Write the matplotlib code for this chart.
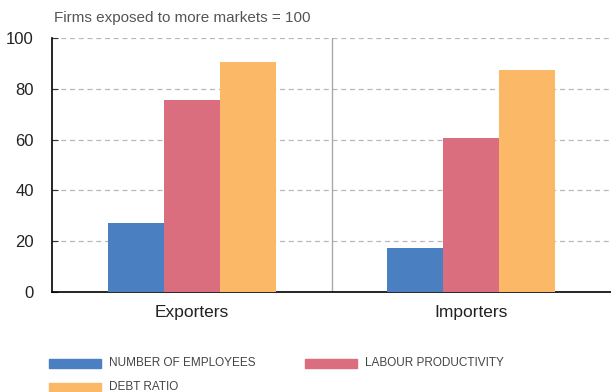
import matplotlib
matplotlib.use("Agg")
import matplotlib.pyplot as plt
from matplotlib.patches import Rectangle
import numpy as np

plt.rcParams['font.family'] = ['Liberation Sans', 'DejaVu Sans']

categories = ["Exporters", "Importers"]
series_names = ["NUMBER OF EMPLOYEES", "LABOUR PRODUCTIVITY", "DEBT RATIO"]
employees = [27, 17.3]
productivity = [75.6, 60.6]
debt_ratio = [90.6, 87.4]
yticks = [0, 20, 40, 60, 80, 100]
colors = ["#4a7fc1", "#db6e7e", "#fbb866"]

fig = plt.figure(figsize=(6.11, 3.92), dpi=100)
ax = fig.add_axes([52/611, 1-292/392, 1-52/611, 254/392])

x = np.arange(len(categories))
w = 0.2
for i, (vals, c) in enumerate(zip([employees, productivity, debt_ratio], colors)):
    ax.bar(x + (i-1)*w, vals, width=w, color=c, edgecolor='none', zorder=3)

ax.set_xlim(-0.5, 1.5)
ax.set_ylim(0, 100)
ax.set_yticks(yticks)
ax.set_xticks(x)
ax.set_xticklabels(categories)
for y in yticks[1:]:
    ax.axhline(y, color="#b8b8b8", lw=0.9, ls=(0, (4, 3)), zorder=1)
ax.axvline(0.5, color="#aaaaaa", lw=1.0, zorder=1)

for s in ["top", "right"]:
    ax.spines[s].set_visible(False)
for s in ["left", "bottom"]:
    ax.spines[s].set_color("black")
    ax.spines[s].set_linewidth(1.2)
ax.tick_params(axis='y', direction='in', length=4, color='#333333', labelsize=12, labelcolor='#222222', pad=13)
ax.tick_params(axis='x', length=0, labelsize=12.5, labelcolor='#222222', pad=9)

fig.text(54/611, 1-18/392, "Firms exposed to more markets = 100", fontsize=11, color="#555555", va='center', ha='left')

# legend
leg_pos = [(49, 363), (305, 363), (49, 387)]
for name, c, (lx, ly) in zip(series_names, colors, leg_pos):
    fig.patches.append(Rectangle((lx/611, 1-(ly+4.5)/392), 52/611, 9/392, transform=fig.transFigure, color=c, figure=fig))
    fig.text((lx+60)/611, 1-ly/392, name, fontsize=8.5, color="#444444", va='center', ha='left')

fig.savefig("out.png", dpi=100)
